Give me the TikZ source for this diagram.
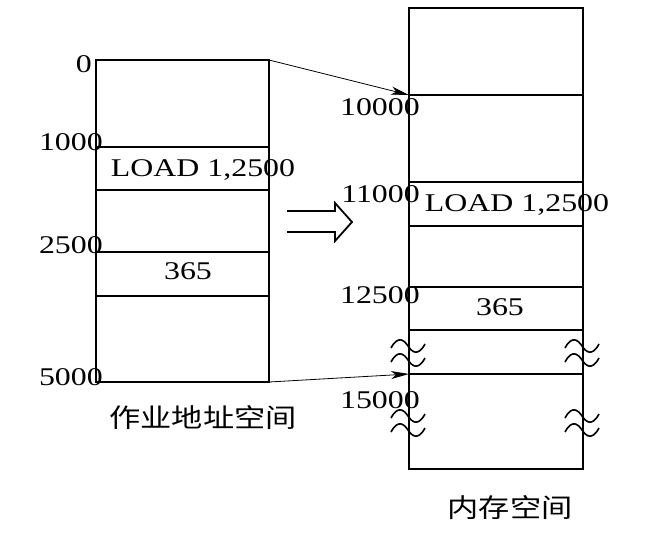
\documentclass[tikz,border=0pt]{standalone}
\usepackage{fontspec}
\setmainfont[FakeStretch=1.25]{Liberation Serif}
\newfontfamily\cjk[FakeStretch=1.2]{Noto Sans CJK SC}
\usetikzlibrary{arrows.meta}
\begin{document}
\begin{tikzpicture}[x=1pt,y=-1pt,
  boxline/.style={line width=1.8pt},
  lbl/.style={inner sep=0pt,font=\fontsize{25.5}{26}\selectfont,text height=17pt,text depth=0pt},
  captext/.style={inner sep=0pt,font=\cjk\fontsize{26}{28}\selectfont},
  maparrow/.style={line width=0.8pt,-{Stealth[length=18pt,width=8pt,inset=5pt]}},
  tildemark/.style={line width=1.6pt}]
\useasboundingbox (0,0) rectangle (648,539);
% left box (job address space)
\draw[boxline] (96,60) rectangle (269,382);
\draw[boxline] (96,147) -- (269,147);
\draw[boxline] (96,190) -- (269,190);
\draw[boxline] (96,252) -- (269,252);
\draw[boxline] (96,296) -- (269,296);
% right box (memory space)
\draw[boxline] (409,8) rectangle (583,469);
\foreach \yy in {95,182,226,287,330,374}
  \draw[boxline] (409,\yy) -- (583,\yy);
% coordinates for connectors
\coordinate (ltop) at (269,60);
\coordinate (lbot) at (269,382);
\coordinate (rtop) at (409,95);
\coordinate (rbot) at (409,374);
\draw[maparrow] (ltop) -- (rtop);
\draw[maparrow] (lbot) -- (rbot);
% hollow double arrow
\draw[line width=1.8pt,line join=miter] (287,211) -- (335,211) -- (335,203) -- (352,222) -- (335,241) -- (335,232) -- (287,232);
% break marks
\foreach \cx in {408,582}
  \foreach \cy in {346,360,416,430}
    \draw[tildemark] (\cx-17,\cy+2) .. controls (\cx-10,\cy-11) and (\cx-4,\cy-6) .. (\cx,\cy)
      .. controls (\cx+4,\cy+6) and (\cx+10,\cy+11) .. (\cx+17,\cy-2);
% left labels
\node[lbl,anchor=east] (l0) at (92,64) {0};
\node[lbl,anchor=east] (l1000) at (103,142) {1000};
\node[lbl,anchor=east] (l2500) at (103,245) {2500};
\node[lbl,anchor=east] (l5000) at (103,377) {5000};
\node[lbl] (lload) at (203,168) {LOAD 1,2500};
\node[lbl] (l365) at (188,271) {365};
% right labels
\node[lbl,anchor=east] (r10000) at (420,107) {10000};
\node[lbl,anchor=east] (r11000) at (420,194) {11000};
\node[lbl,anchor=east] (r12500) at (420,295) {12500};
\node[lbl,anchor=east] (r15000) at (420,400) {15000};
\node[lbl] (rload) at (517,203) {LOAD 1,2500};
\node[lbl] (r365) at (500,307) {365};
% captions
\node[captext] (capl) at (203,418) {作业地址空间};
\node[captext] (capr) at (510,508) {内存空间};
\end{tikzpicture}
\end{document}
